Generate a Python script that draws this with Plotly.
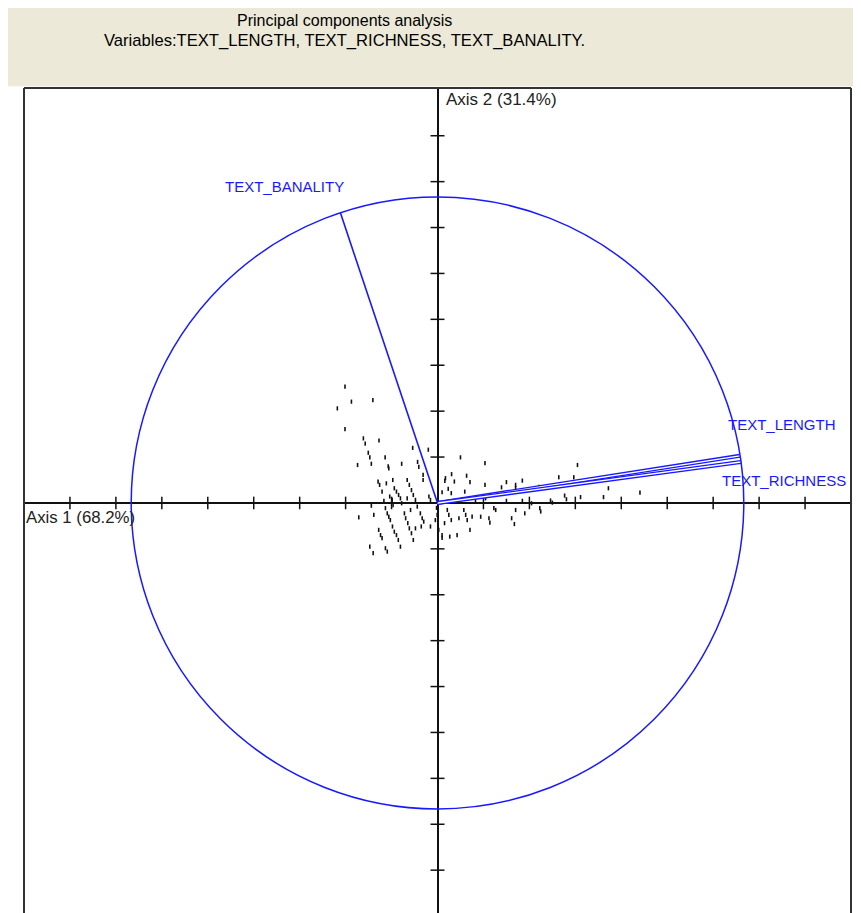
import plotly.graph_objects as go

# ---------------- data ----------------
title_line1 = "Principal components analysis"
title_line2 = "Variables:TEXT_LENGTH, TEXT_RICHNESS, TEXT_BANALITY."
axis1_label = "Axis 1 (68.2%)"
axis2_label = "Axis 2 (31.4%)"

var_names = ["TEXT_LENGTH", "TEXT_RICHNESS", "TEXT_BANALITY"]
var_x = [0.987, 0.990, -0.317]
var_y = [0.154, 0.134, 0.948]

tick_values = [-1.2, -1.05, -0.9, -0.75, -0.6, -0.45, -0.3, -0.15,
               0.15, 0.3, 0.45, 0.6, 0.75, 0.9, 1.05, 1.2]

obs_x = [-0.302, -0.281, -0.211, -0.327, -0.302, -0.242, -0.236, -0.191, -0.081, -0.030,
         -0.226, -0.221, -0.171, -0.065, -0.261, -0.216, -0.117, -0.161, -0.061, -0.159,
         -0.047, -0.047, -0.194, -0.189, -0.167, -0.146, -0.141, -0.134, -0.127, -0.121,
         -0.117, -0.099, -0.092, -0.085, -0.079, -0.072, -0.066, -0.181, -0.175, -0.156,
         -0.148, -0.145, -0.099, -0.028, -0.023, -0.216, -0.257, -0.208, -0.170, -0.164,
         -0.159, -0.154, -0.108, -0.104, -0.097, -0.092, -0.085, -0.079, -0.147, -0.141,
         -0.134, -0.128, -0.121, -0.088, -0.072, -0.056, -0.050, -0.045, -0.053, -0.023,
         -0.192, -0.186, -0.181, -0.221, -0.210, -0.003, -0.001,
         0.075, 0.155, 0.046, 0.095, 0.026, 0.024, 0.055, 0.106, 0.035, 0.045,
         0.089, 0.155, 0.225, 0.255, 0.255, 0.277, 0.209, 0.331, 0.015, 0.225,
         0.277, 0.157, 0.124, 0.307, 0.032, 0.037, 0.045, 0.086, 0.092, 0.097,
         0.106, 0.070, 0.113, 0.141, 0.168, 0.171, 0.184, 0.190, 0.255, 0.242,
         0.251, 0.285, 0.334, -0.007, 0.004, 0.015, 0.015, 0.040, 0.064, 0.023,
         0.457, 0.396, 0.445, 0.558, 0.661, 0.415, 0.421, 0.467, 0.542, 0.369,
         0.375, 0.337, -0.170, -0.164]
obs_y = [0.380, 0.331, 0.336, 0.309, 0.241, 0.211, 0.194, 0.204, 0.180, 0.174,
         0.164, 0.149, 0.149, 0.134, 0.124, 0.128, 0.128, 0.120, 0.118, 0.113,
         0.092, 0.075, 0.070, 0.059, 0.064, 0.075, 0.048, 0.037, 0.026, 0.015,
         -0.001, 0.075, 0.059, 0.042, 0.026, 0.010, -0.012, 0.037, 0.007, 0.021,
         0.010, -0.007, 0.015, 0.021, 0.010, -0.009, -0.047, -0.039, -0.017, -0.034,
         -0.045, -0.056, -0.034, -0.050, -0.066, -0.083, -0.099, -0.121, -0.077, -0.094,
         -0.105, -0.121, -0.143, -0.023, -0.083, -0.034, -0.050, -0.061, -0.077, -0.077,
         -0.088, -0.105, -0.115, -0.143, -0.164, -0.016, -0.039,
         0.149, 0.130, 0.094, 0.089, 0.081, 0.072, 0.070, 0.068, 0.046, 0.032,
         0.037, 0.059, 0.068, 0.059, 0.049, 0.073, 0.051, 0.053, 0.035, 0.007,
         0.007, 0.015, 0.007, -0.001, -0.023, -0.039, -0.056, -0.023, -0.039, -0.056,
         -0.088, -0.050, -0.045, -0.045, -0.050, -0.064, -0.017, -0.023, -0.023, -0.050,
         -0.069, -0.034, -0.017, -0.056, -0.088, -0.105, -0.114, -0.110, -0.105, -0.066,
         0.124, 0.084, 0.084, 0.048, 0.034, 0.024, 0.012, 0.019, 0.019, 0.008,
         0.001, -0.028, -0.148, -0.159]

# ---------------- styles ----------------
BLUE = "rgb(25,25,255)"
HEADER_BG = "#ECE9D8"
FONT = "Liberation Sans, Arial, sans-serif"

fig = go.Figure()

# observations
fig.add_trace(go.Scatter(
    x=obs_x, y=obs_y, mode="markers",
    marker=dict(symbol="line-ns", size=3, line=dict(width=1.6, color="#111111")),
    hoverinfo="skip"))

# axis ticks along the zero lines
fig.add_trace(go.Scatter(
    x=tick_values, y=[0] * len(tick_values), mode="markers",
    marker=dict(symbol="line-ns", size=9, line=dict(width=1.5, color="#111111")),
    hoverinfo="skip"))
fig.add_trace(go.Scatter(
    x=[0] * len(tick_values), y=tick_values, mode="markers",
    marker=dict(symbol="line-ew", size=10, line=dict(width=1.5, color="#111111")),
    hoverinfo="skip"))

# variable vectors
for name, vx, vy in zip(var_names, var_x, var_y):
    if name == "TEXT_BANALITY":
        fig.add_trace(go.Scatter(x=[0, vx], y=[0, vy], mode="lines",
                                 line=dict(color=BLUE, width=1.6), hoverinfo="skip"))
    else:
        fig.add_trace(go.Scatter(x=[0, vx], y=[0, vy], mode="lines",
                                 line=dict(color=BLUE, width=4.0), hoverinfo="skip"))
        fig.add_trace(go.Scatter(x=[0, vx], y=[0, vy], mode="lines",
                                 line=dict(color="white", width=1.4), hoverinfo="skip"))

# correlation circle
fig.add_shape(type="circle", xref="x", yref="y", x0=-1, y0=-1, x1=1, y1=1,
              line=dict(color=BLUE, width=1.5))

# header panel
fig.add_shape(type="rect", xref="paper", yref="paper",
              x0=-0.0194, x1=1.013, y0=1.002, y1=1.1,
              fillcolor=HEADER_BG, line=dict(width=0), layer="below")
# frame
frame = dict(color="#333333", width=2)
fig.add_shape(type="line", xref="paper", yref="paper", x0=0, x1=0, y0=-0.01, y1=1, line=frame)
fig.add_shape(type="line", xref="paper", yref="paper", x0=1, x1=1, y0=-0.01, y1=1, line=frame)
fig.add_shape(type="line", xref="paper", yref="paper", x0=0, x1=1, y0=1, y1=1, line=frame)

# header titles
fig.add_annotation(text=title_line1, xref="paper", yref="paper", x=0.388, y=1.0824,
                   showarrow=False, xanchor="center", yanchor="middle",
                   font=dict(family=FONT, size=16, color="black"))
fig.add_annotation(text=title_line2, xref="paper", yref="paper", x=0.388, y=1.0570,
                   showarrow=False, xanchor="center", yanchor="middle",
                   font=dict(family=FONT, size=16.6, color="black"))

# axis labels
fig.add_annotation(text=axis1_label, x=-1.349, y=-0.049, showarrow=False,
                   xanchor="left", yanchor="middle",
                   font=dict(family=FONT, size=16.8, color="#222222"))
fig.add_annotation(text=axis2_label, x=0.020, y=1.317, showarrow=False,
                   xanchor="left", yanchor="middle",
                   font=dict(family=FONT, size=17, color="#222222"))

# variable labels
label_pos = {"TEXT_LENGTH": (0.942, 0.255),
             "TEXT_RICHNESS": (0.921, 0.075),
             "TEXT_BANALITY": (-0.700, 1.033)}
for name in var_names:
    lx, ly = label_pos[name]
    fig.add_annotation(text=name, x=lx, y=ly, showarrow=False,
                       xanchor="left", yanchor="middle",
                       font=dict(family=FONT, size=15, color=BLUE))

fig.update_xaxes(range=[-1.35, 1.35], showgrid=False, showticklabels=False,
                 zeroline=True, zerolinecolor="#111111", zerolinewidth=1.5,
                 showline=False, ticks="", fixedrange=True)
fig.update_yaxes(range=[-1.34, 1.356], showgrid=False, showticklabels=False,
                 zeroline=True, zerolinecolor="#111111", zerolinewidth=1.5,
                 showline=False, ticks="", fixedrange=True)

# page body has an 8px margin, so the figure is 8px smaller than the window
fig.update_layout(width=853, height=905,
                  margin=dict(l=16, r=10, t=80, b=0),
                  paper_bgcolor="white", plot_bgcolor="white",
                  showlegend=False)

fig.write_html("out.html", config={"displayModeBar": False})
